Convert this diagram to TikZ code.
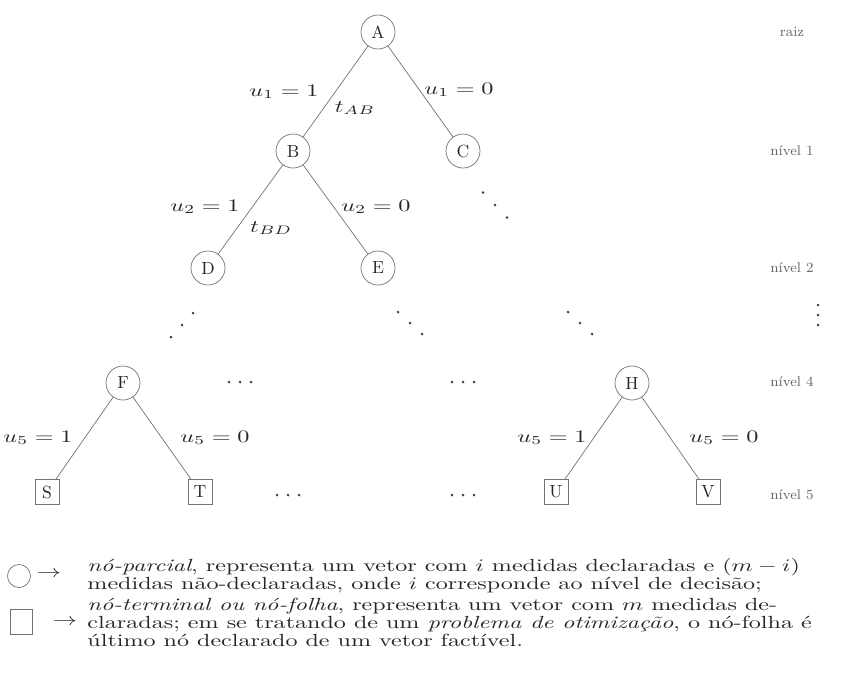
\documentclass[tikz,border=0pt]{standalone}
\usepackage{xcolor}
\usepackage{tikz}
\usepackage{amssymb}

\tikzset{
  parcial/.style={draw=black!55, circle, minimum size=0.68cm, inner sep=0pt, text=black!85},
  folha/.style={draw=black!55, rectangle, minimum width=0.48cm, minimum height=0.5cm, inner sep=0pt, text=black!85},
  ramo/.style={black!55, thin},
  rotulo/.style={xscale=1.38, text=black!85, inner sep=1pt},
  nivel/.style={font=\footnotesize, text=black!60},
  legenda/.style={xscale=1.37, align=left, anchor=west, text=black!85, font=\fontsize{10}{10.3}\selectfont, inner sep=0pt},
}

\begin{document}
\begin{tikzpicture}
  \useasboundingbox (0,0) rectangle (16.96,-13.5);

  % arvore de decisao
  \node[parcial] (A) at (7.56,-0.64) {A};
  \node[parcial] (B) at (5.86,-3.02) {B};
  \node[parcial] (C) at (9.26,-3.02) {C};
  \node[parcial] (D) at (4.16,-5.36) {D};
  \node[parcial] (E) at (7.56,-5.36) {E};
  \node[parcial] (F) at (2.46,-7.66) {F};
  \node[parcial] (H) at (12.64,-7.66) {H};
  \node[folha] (S) at (0.94,-9.84) {S};
  \node[folha] (T) at (4.0,-9.84) {T};
  \node[folha] (U) at (11.12,-9.84) {U};
  \node[folha] (V) at (14.16,-9.84) {V};

  \draw[ramo] (A) -- (B);
  \draw[ramo] (A) -- (C);
  \draw[ramo] (B) -- (D);
  \draw[ramo] (B) -- (E);
  \draw[ramo] (F) -- (S);
  \draw[ramo] (F) -- (T);
  \draw[ramo] (H) -- (U);
  \draw[ramo] (H) -- (V);

  % rotulos dos ramos
  \node[rotulo] (ab) at (5.68,-1.84) {$u_1 = 1$};
  \node[rotulo] (tab) at (7.1,-2.16) {$t_{AB}$};
  \node[rotulo] (ac) at (9.18,-1.8) {$u_1 = 0$};
  \node[rotulo] (bd) at (4.1,-4.14) {$u_2 = 1$};
  \node[rotulo] (tbd) at (5.42,-4.56) {$t_{BD}$};
  \node[rotulo] (be) at (7.52,-4.14) {$u_2 = 0$};
  \node[rotulo] (fs) at (0.76,-8.76) {$u_5 = 1$};
  \node[rotulo] (ft) at (4.3,-8.76) {$u_5 = 0$};
  \node[rotulo] (hu) at (11.04,-8.76) {$u_5 = 1$};
  \node[rotulo] (hv) at (14.48,-8.76) {$u_5 = 0$};

  % reticencias
  \foreach \cx/\cy/\sx/\sy in {9.9/-4.1/0.24/-0.25, 3.64/-6.5/-0.22/-0.24,
      8.2/-6.46/0.24/-0.22, 11.6/-6.46/0.24/-0.22, 16.36/-6.3/0/-0.2,
      4.8/-7.64/0.22/0, 9.26/-7.64/0.22/0, 5.76/-9.9/0.22/0, 9.26/-9.9/0.22/0}
    \foreach \k in {-1,0,1}
      \fill[black!75] (\cx+\k*\sx, \cy+\k*\sy) circle (0.85pt);

  % niveis
  \node[nivel] (raiz) at (15.84,-0.64) {raiz};
  \node[nivel] (n1) at (15.84,-3.02) {nível 1};
  \node[nivel] (n2) at (15.84,-5.36) {nível 2};
  \node[nivel] (n4) at (15.84,-7.64) {nível 4};
  \node[nivel] (n5) at (15.84,-9.9) {nível 5};

  % legenda
  \node[draw=black!55, circle, minimum size=0.46cm, inner sep=0pt] (lc) at (0.38,-11.52) {};
  \node[rotulo] (la) at (0.98,-11.48) {$\rightarrow$};
  \node[legenda] (lt) at (1.74,-11.52)
    {\textit{nó-parcial}, representa um vetor com $i$ medidas declaradas e $(m-i)$\\
     medidas não-declaradas, onde $i$ corresponde ao nível de decisão;};
  \node[draw=black!55, minimum width=0.44cm, minimum height=0.5cm, inner sep=0pt] (lq) at (0.42,-12.44) {};
  \node[rotulo] (lb) at (1.3,-12.44) {$\rightarrow$};
  \node[legenda] (lf) at (1.74,-12.44)
    {\textit{nó-terminal ou nó-folha}, representa um vetor com $m$ medidas de-\\
     claradas; em se tratando de um \textit{problema de otimização}, o nó-folha é\\
     último nó declarado de um vetor factível.};
\end{tikzpicture}
\end{document}
